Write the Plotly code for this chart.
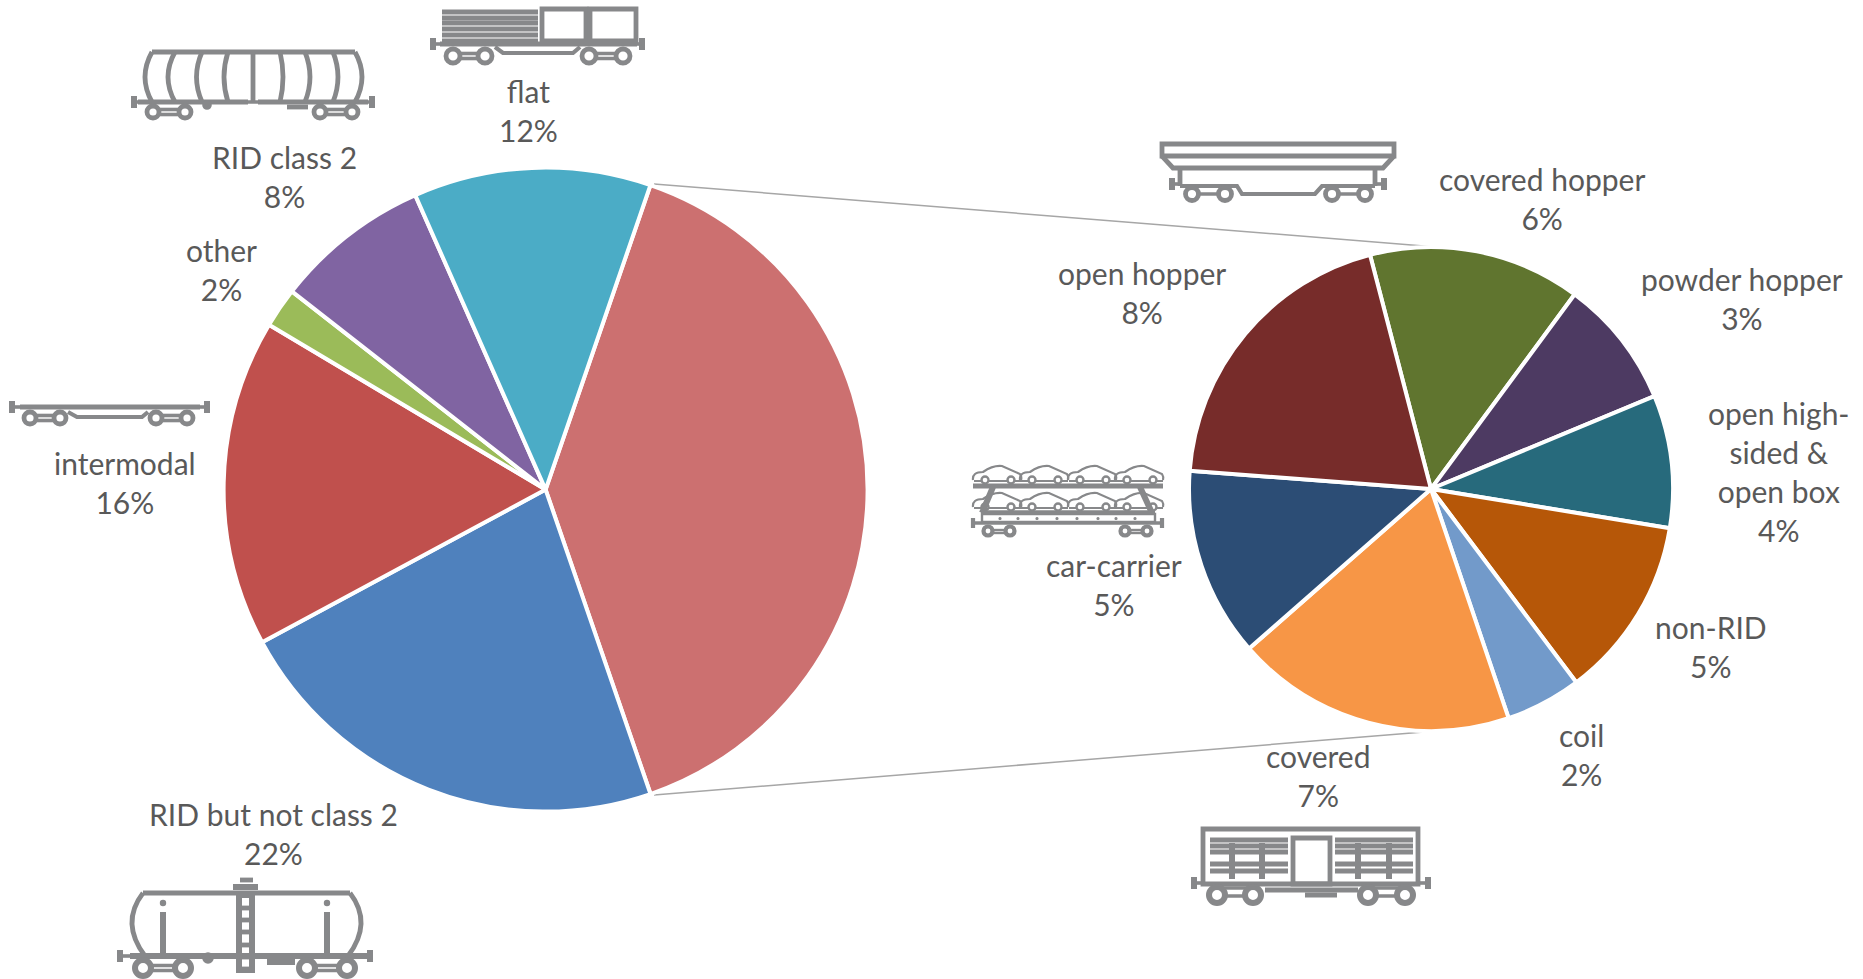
import plotly.graph_objects as go

W, H = 1863, 979

# ---- data ----
main_labels = ["(breakdown)", "RID but not class 2", "intermodal", "other", "RID class 2", "flat"]
main_values = [39.4, 22.4, 16.4, 2.0, 7.8, 11.9]
main_text = ["", "22%", "16%", "2%", "8%", "12%"]
main_colors = ["#CC7070", "#4F81BD", "#C0504D", "#9BBB59", "#8064A2", "#4BACC6"]

sub_labels = ["covered hopper", "powder hopper", "open high-<br>sided &<br>open box", "non-RID", "coil",
              "covered", "car-carrier", "open hopper"]
sub_values = [5.6, 3.4, 3.5, 4.8, 2.0, 7.4, 5.0, 7.8]
sub_text = ["6%", "3%", "4%", "5%", "2%", "7%", "5%", "8%"]
sub_colors = ["#60752F", "#4D3A62", "#276A7C", "#B65708", "#729ACA", "#F79646", "#2C4D75", "#772C2A"]

# ---- layout helpers, pixels -> paper ----
def px(x): return x / W
def py(y): return 1 - y / H

ICON = "#87888A"
K = 1.2  # stroke weight of the wagon pictograms
shapes = []

def line(pts, w=4, color=ICON, layer="above", k=K):
    d = "M " + " L ".join(f"{px(x):.5f},{py(y):.5f}" for x, y in pts)
    shapes.append(dict(type="path", path=d, xref="paper", yref="paper",
                       line=dict(color=color, width=w * k), layer=layer))

def curve(p0, c, p1, w=4):
    d = (f"M {px(p0[0]):.5f},{py(p0[1]):.5f} Q {px(c[0]):.5f},{py(c[1]):.5f} "
         f"{px(p1[0]):.5f},{py(p1[1]):.5f}")
    shapes.append(dict(type="path", path=d, xref="paper", yref="paper", line=dict(color=ICON, width=w * K)))

def ring(x, y, r, w=4, fill="white"):
    shapes.append(dict(type="circle", xref="paper", yref="paper", x0=px(x - r), x1=px(x + r),
                       y0=py(y + r), y1=py(y - r), line=dict(color=ICON, width=w * K), fillcolor=fill))

def rect(x0, y0, x1, y1, w=4, fill="rgba(0,0,0,0)"):
    shapes.append(dict(type="rect", xref="paper", yref="paper", x0=px(x0), x1=px(x1),
                       y0=py(y1), y1=py(y0), line=dict(color=ICON, width=w * K), fillcolor=fill))

def running_gear(x0, x1, y, bl, br, wheels, wy, r, w=4):
    line([(x0, y), (x1, y)], w)
    line([(bl, y - 6), (bl, y + 6)], 5)
    line([(br, y - 6), (br, y + 6)], 5)
    line([(bl, y), (x0, y)], 3)
    line([(br, y), (x1, y)], 3)
    for a, b in ((wheels[0], wheels[1]), (wheels[2], wheels[3])):
        line([(a, wy - 2.5), (b, wy - 2.5)], 3)
        line([(a, wy + 2.5), (b, wy + 2.5)], 3)
    for wx in wheels:
        ring(wx, wy, r, w)

# connector lines
line([(654, 184), (1430, 246.5)], 1.5, "#A6A6A6", "below", 1)
line([(654, 795), (1430, 731.5)], 1.5, "#A6A6A6", "below", 1)

# intermodal wagon
running_gear(20, 200, 407, 12, 207, (30, 60, 156, 187), 418, 6)
line([(68, 412), (77, 417), (142, 417), (148, 412)], 3.5)

# flat wagon
for y in (12, 18, 23, 29, 35, 41):
    line([(442, y), (538, y)], 4)
rect(542, 9, 586, 41)
rect(590, 9, 636, 41)
running_gear(440, 637, 44, 433, 642, (453, 485, 589, 623), 56, 7)
line([(495, 47), (503, 53), (573, 53), (580, 47)], 3.5)

# RID class 2 wagon
line([(152, 52), (355, 52)], 4)
for top, ctrl in ((152, 138), (175, 161), (202, 191), (228, 220), (280, 286), (305, 315), (333, 343), (355, 369)):
    curve((top, 52), (ctrl, 77), (top, 102))
line([(253, 52), (253, 102)], 4)
running_gear(138, 248, 102, 134, 372, (153, 185, 320, 352), 112, 6)
line([(258, 102), (368, 102)], 4)
line([(287, 107), (308, 107)], 4)
ring(207, 105, 3, 3, ICON)

# RID but not class 2 wagon
line([(143, 893), (350, 893)], 4)
curve((143, 893), (120, 923), (145, 956))
curve((350, 893), (373, 923), (348, 956))
rect(239, 895, 252, 970, 5)
for y in (903, 915, 927, 940, 952, 964):
    line([(239, y + 5), (252, y + 5)], 4)
line([(233, 887), (258, 887)], 5)
line([(240, 880), (253, 880)], 4)
for x in (163, 327):
    line([(x, 912), (x, 954)], 5)
    ring(x, 903, 2, 2, ICON)
running_gear(130, 368, 956, 120, 370, (143, 183, 307, 347), 968, 8, 5)
ring(208, 958, 4, 3, ICON)
line([(267, 962), (295, 962)], 5)

# covered hopper wagon
rect(1162, 144, 1394, 156)
line([(1162, 156), (1173, 168), (1383, 168), (1394, 156)], 4)
line([(1180, 168), (1180, 186)], 4)
line([(1375, 168), (1375, 186)], 4)
line([(1180, 186), (1237, 186), (1242, 194), (1315, 194), (1322, 186), (1375, 186)], 3.5)
line([(1172, 178), (1172, 190)], 5)
line([(1384, 178), (1384, 190)], 5)
line([(1172, 184), (1180, 184)], 3)
line([(1375, 184), (1384, 184)], 3)
for a, b in ((1192, 1225), (1332, 1365)):
    line([(a, 194), (b, 194)], 3)
for x in (1192, 1225, 1332, 1365):
    ring(x, 194, 6.5)

# car-carrier wagon
def car(cx, base):
    d = (f"M {px(cx-25):.5f},{py(base):.5f} Q {px(cx-26):.5f},{py(base-8):.5f} {px(cx-15):.5f},{py(base-8):.5f} "
         f"Q {px(cx-5):.5f},{py(base-15):.5f} {px(cx+4):.5f},{py(base-14):.5f} "
         f"Q {px(cx+13):.5f},{py(base-10):.5f} {px(cx+22):.5f},{py(base-6):.5f} "
         f"Q {px(cx+24):.5f},{py(base-3):.5f} {px(cx+23):.5f},{py(base):.5f}")
    shapes.append(dict(type="path", path=d, xref="paper", yref="paper", line=dict(color=ICON, width=2.2)))
    line([(cx - 24, base + 1), (cx + 23, base + 1)], 1.5)
    ring(cx - 13, base, 3.5, 2)
    ring(cx + 13, base, 3.5, 2)

line([(973, 486), (1163, 486)], 4)
for cx in (998, 1045, 1093, 1140):
    car(cx, 480)
    car(cx, 507)
line([(993, 487), (982, 513)], 5)
line([(1140, 487), (1152, 513)], 5)
line([(981, 512), (1155, 512)], 3)
rect(982, 514, 1155, 522, 2)
line([(975, 523), (1162, 523)], 3)
line([(973, 518), (973, 528)], 3.5)
line([(1162, 518), (1162, 528)], 3.5)
for x in (1000, 1018, 1037, 1057, 1077, 1098, 1116, 1135):
    ring(x, 518.5, 1, 1, ICON)
for a, b in ((988, 1010), (1125, 1147)):
    line([(a, 530), (b, 530)], 2)
    line([(a, 533), (b, 533)], 2)
for x in (988, 1010, 1125, 1147):
    ring(x, 531, 4.5, 3.5)

# covered wagon
rect(1203, 829, 1418, 884)
rect(1293, 838, 1330, 884)
for y in (840, 846, 852, 864, 871):
    line([(1210, y), (1288, y)], 4)
    line([(1335, y), (1413, y)], 4)
for x in (1232, 1262, 1358, 1389):
    line([(x, 843), (x, 879)], 5)
line([(1194, 877), (1194, 889)], 5)
line([(1428, 877), (1428, 889)], 5)
line([(1194, 883), (1203, 883)], 3)
line([(1418, 883), (1428, 883)], 3)
line([(1265, 890), (1358, 890)], 4)
line([(1305, 895), (1337, 895)], 4)
for a, b in ((1217, 1253), (1368, 1405)):
    line([(a, 888), (b, 888)], 3)
    line([(a, 896), (b, 896)], 3)
for x in (1217, 1253, 1368, 1405):
    ring(x, 895, 8, 5)

# ---- label placement, pixel centres of the text blocks ----
main_pos = {"RID but not class 2": (273, 833), "intermodal": (125, 482), "other": (221, 270),
            "RID class 2": (284, 176), "flat": (528, 111)}
sub_pos = {"covered hopper": (1542, 199), "powder hopper": (1742, 299), "non-RID": (1711, 646),
           "coil": (1581, 754), "covered": (1318, 775), "car-carrier": (1114, 584), "open hopper": (1142, 293)}
sub_pos["open high-<br>sided &<br>open box"] = (1779, 472)

annotations = []
def add_label(name, pct, pos):
    annotations.append(dict(text=f"{name}<br>{pct}", x=px(pos[0]), y=py(pos[1]), xref="paper", yref="paper",
                            showarrow=False, xanchor="center", yanchor="middle", align="center",
                            font=dict(family="Lato", size=30, color="#595959")))

for n, t in zip(main_labels, main_text):
    if n in main_pos:
        add_label(n, t, main_pos[n])
for n, t in zip(sub_labels, sub_text):
    add_label(n, t, sub_pos[n])

fig = go.Figure()
fig.add_trace(go.Pie(labels=main_labels, values=main_values, sort=False, direction="clockwise", rotation=19,
                     marker=dict(colors=main_colors, line=dict(color="white", width=4)),
                     textinfo="none", hoverinfo="label+percent", showlegend=False,
                     domain=dict(x=[px(223.6), px(867.6)], y=[py(811.6), py(167.6)])))
fig.add_trace(go.Pie(labels=sub_labels, values=sub_values, sort=False, direction="clockwise", rotation=345.4,
                     marker=dict(colors=sub_colors, line=dict(color="white", width=4)),
                     textinfo="none", hoverinfo="label+percent", showlegend=False,
                     domain=dict(x=[px(1189), px(1673)], y=[py(731), py(247)])))
fig.update_layout(width=W, height=H, margin=dict(l=0, r=0, t=0, b=0), paper_bgcolor="white",
                  shapes=shapes, annotations=annotations, showlegend=False)
fig.write_html("out.html", config=dict(displayModeBar=False),
               post_script="document.body.style.margin='0';document.body.style.overflow='hidden';")
